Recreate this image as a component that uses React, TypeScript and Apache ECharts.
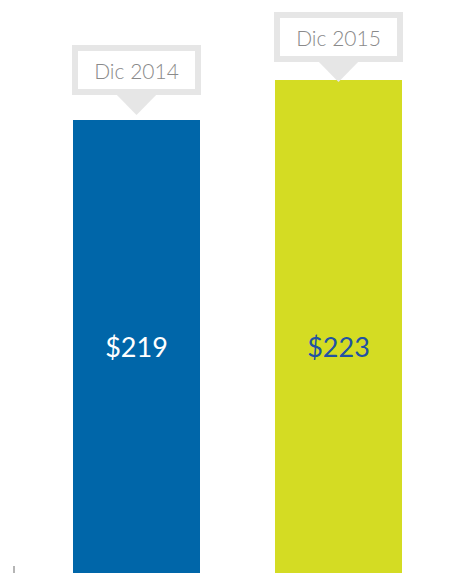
import React, { useEffect, useRef } from "react";
import * as echarts from "echarts";

const categories = ["Dic 2014", "Dic 2015"];
const values = [219, 223];
const valueLabels = ["$219", "$223"];
const barColors = ["#0066a9", "#d4dc23"];
const valueLabelColors = ["#ffffff", "#2152a3"];
const calloutOffsets = [-17, -10];

export default function App() {
  const ref = useRef<HTMLDivElement>(null);
  useEffect(() => {
    if (!ref.current) return;
    const chart = echarts.init(ref.current, null, { renderer: "svg" });
    chart.setOption({
      animation: false,
      grid: { left: 35.5, right: 12.5, top: 0, bottom: 0 },
      xAxis: { type: "category", data: categories, show: false },
      yAxis: { type: "value", min: 173.7, max: 231, show: false },
      graphic: [
        {
          type: "line",
          shape: { x1: 14, y1: 566, x2: 14, y2: 573 },
          style: { stroke: "#b5b5b5", lineWidth: 2 },
        },
      ],
      series: [
        {
          type: "bar",
          barWidth: 127,
          data: values.map((v, i) => ({
            value: v,
            itemStyle: { color: barColors[i] },
            label: {
              show: true,
              position: "insideBottom",
              distance: 212,
              formatter: valueLabels[i],
              color: valueLabelColors[i],
              fontFamily: "Lato",
              fontWeight: 400,
              fontSize: 27,
              lineHeight: 30,
            },
          })),
        },
        {
          type: "scatter",
          z: 5,
          symbol: "path://M0,0 L2,0 L1,1 Z",
          symbolKeepAspect: false,
          symbolSize: [47, 24],
          data: values.map((v, i) => ({
            value: v,
            symbolOffset: [0, calloutOffsets[i]],
            label: {
              show: true,
              position: "top",
              distance: 2,
              formatter: categories[i],
              color: "#8a8a8a",
              fontFamily: "Lato",
              fontWeight: 300,
              fontSize: 21,
              backgroundColor: "#ffffff",
              borderColor: "#e6e6e6",
              borderWidth: 6,
              width: 117,
              height: 38,
              lineHeight: 38,
              align: "center",
              padding: 0,
            },
          })),
          itemStyle: { color: "#e6e6e6", opacity: 1 },
        },
      ],
    });
    return () => chart.dispose();
  }, []);
  return (
    <div
      ref={ref}
      style={{ position: "fixed", left: 0, top: 0, width: 452, height: 573, background: "#ffffff" }}
    />
  );
}
